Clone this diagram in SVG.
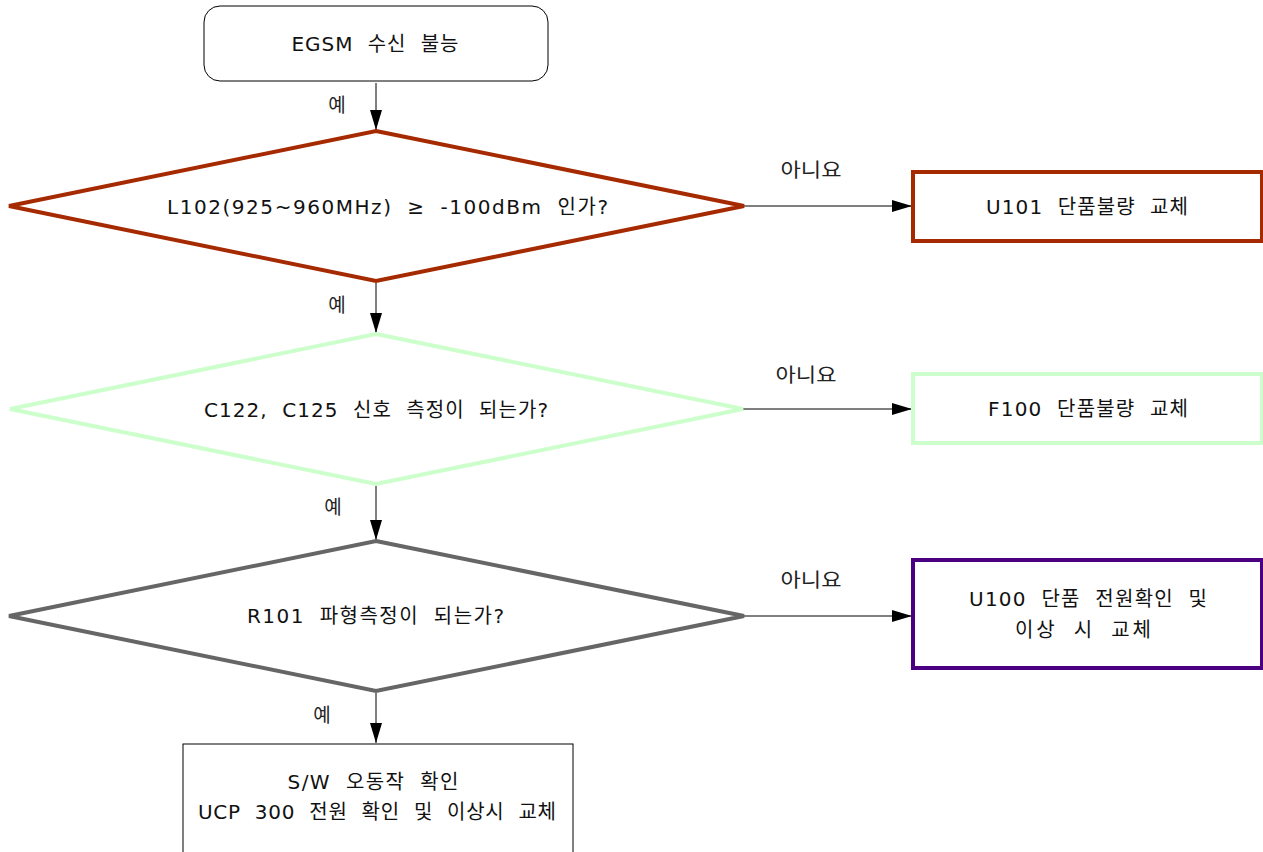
<svg xmlns="http://www.w3.org/2000/svg" width="1263" height="852" viewBox="0 0 1263 852">
<defs>
<marker id="ah" markerWidth="20" markerHeight="12" refX="20" refY="6" orient="auto" markerUnits="userSpaceOnUse">
<path d="M0,0 L20,6 L0,12 Z" fill="#000"/>
</marker>
<style>
text{font-family:"DejaVu Sans","Noto Sans CJK KR",sans-serif;font-size:20px;fill:#111;text-anchor:middle;dominant-baseline:central;word-spacing:7px}
.lbl{font-size:19px;fill:#222}
.c{stroke:#000;stroke-width:1;fill:none;marker-end:url(#ah)}
.red{fill:#fff;stroke:#A62A00;stroke-width:4}
.grn{fill:#fff;stroke:#CCFFCC;stroke-width:4}
.gry{fill:#fff;stroke:#666;stroke-width:4}
.ind{fill:#fff;stroke:#4B0082;stroke-width:4}
</style>
</defs>
<rect width="1263" height="852" fill="#fff"/>
<g id="connectors">
<line class="c" x1="376" y1="83" x2="376" y2="130"/>
<line class="c" x1="376" y1="283" x2="376" y2="333"/>
<line class="c" x1="376" y1="486" x2="376" y2="540"/>
<line class="c" x1="376" y1="693" x2="376" y2="743"/>
<line class="c" x1="744" y1="206" x2="912" y2="206"/>
<line class="c" x1="743" y1="409" x2="912" y2="409"/>
<line class="c" x1="744" y1="616" x2="912" y2="616"/>
<text class="lbl" x="337" y="105">예</text>
<text class="lbl" x="337" y="305">예</text>
<text class="lbl" x="333" y="507">예</text>
<text class="lbl" x="322" y="715">예</text>
<text class="lbl" x="811" y="170" textLength="61" lengthAdjust="spacingAndGlyphs">아니요</text>
<text class="lbl" x="806" y="375" textLength="61" lengthAdjust="spacingAndGlyphs">아니요</text>
<text class="lbl" x="811" y="580" textLength="61" lengthAdjust="spacingAndGlyphs">아니요</text>
</g>
<g id="start">
<rect x="204" y="6" width="344" height="75" rx="16" fill="#fff" stroke="#000" stroke-width="1"/>
<text x="375" y="44" textLength="167" lengthAdjust="spacing">EGSM 수신 불능</text>
</g>
<g id="d1">
<polygon class="red" points="376,131 744,206 376,281 9,206"/>
<text x="387.5" y="207" textLength="441" lengthAdjust="spacing">L102(925~960MHz) ≥ -100dBm 인가?</text>
</g>
<g id="d2">
<polygon class="grn" points="376,334 743,409 376,484 10,409"/>
<text x="376" y="410" textLength="344" lengthAdjust="spacing">C122, C125 신호 측정이 되는가?</text>
</g>
<g id="d3">
<polygon class="gry" points="376,541 744,616 376,691 9,616"/>
<text x="375.5" y="616" textLength="257" lengthAdjust="spacing">R101 파형측정이 되는가?</text>
</g>
<g id="end">
<rect x="183" y="744" width="390" height="120" fill="#fff" stroke="#000" stroke-width="1"/>
<text x="373" y="782" textLength="171" lengthAdjust="spacing">S/W 오동작 확인</text>
<text x="377" y="812" textLength="358" lengthAdjust="spacing">UCP 300 전원 확인 및 이상시 교체</text>
</g>
<g id="u101">
<rect class="red" x="913" y="172" width="349" height="69"/>
<text x="1087" y="207" textLength="202" lengthAdjust="spacing">U101 단품불량 교체</text>
</g>
<g id="f100">
<rect class="grn" x="913" y="374" width="349" height="69"/>
<text x="1088" y="409" textLength="200" lengthAdjust="spacing">F100 단품불량 교체</text>
</g>
<g id="u100">
<rect class="ind" x="913" y="560" width="349" height="108"/>
<text x="1088" y="599" textLength="238" lengthAdjust="spacing">U100 단품 전원확인 및</text>
<text x="1083" y="630" textLength="136" lengthAdjust="spacing">이상 시 교체</text>
</g>
</svg>
